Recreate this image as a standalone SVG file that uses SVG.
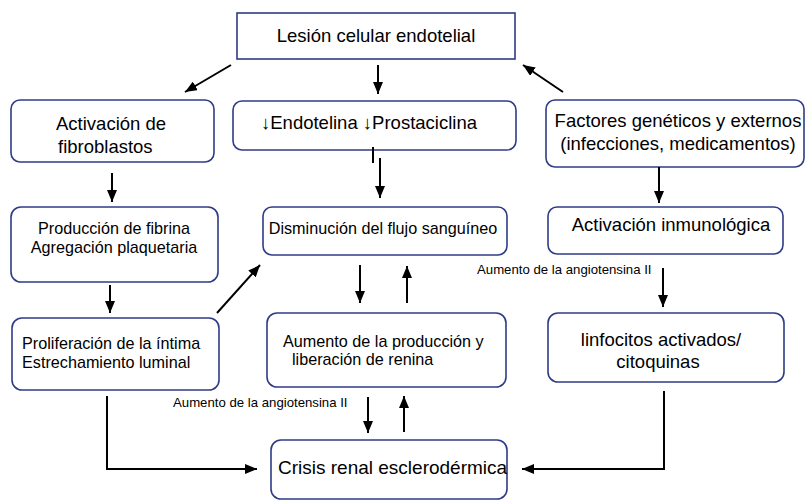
<svg xmlns="http://www.w3.org/2000/svg" width="805" height="501" viewBox="0 0 805 501">
<defs>
<marker id="ah" markerUnits="userSpaceOnUse" markerWidth="12" markerHeight="10" refX="12" refY="5" orient="auto">
<path d="M0,0 L12,5 L0,10 z" fill="#000"/>
</marker>
<style>
.box{fill:#fff;stroke:#2f3b86;stroke-width:1.6}
.t{font-family:"Liberation Sans",Arial,sans-serif;fill:#000}
.l{font-size:18.5px}
.m{font-size:16.2px}
.s{font-size:13.2px}
.c{text-anchor:middle}
.ln{stroke:#000;stroke-width:2;fill:none}
.a{marker-end:url(#ah)}
</style>
</defs>
<rect width="805" height="501" fill="#fff"/>

<g id="lesion">
<rect class="box" x="237" y="13" width="278" height="46"/>
<text class="t l c" x="376" y="42">Lesión celular endotelial</text>
</g>
<g id="fibroblastos">
<rect class="box" x="11" y="100" width="203" height="62" rx="9"/>
<text class="t l" x="56" y="130">Activación de</text>
<text class="t l" x="58" y="153">fibroblastos</text>
</g>
<g id="endotelina">
<rect class="box" x="233" y="101" width="283" height="49" rx="9"/>
<text class="t l c" x="369" y="129">↓Endotelina ↓Prostaciclina</text>
</g>
<g id="factores">
<rect class="box" x="546" y="100" width="258" height="67" rx="9"/>
<text class="t l c" x="678" y="127">Factores genéticos y externos</text>
<text class="t l c" x="678" y="150">(infecciones, medicamentos)</text>
</g>
<g id="fibrina">
<rect class="box" x="11" y="207" width="207" height="75" rx="10"/>
<text class="t m c" x="114" y="234">Producción de fibrina</text>
<text class="t m c" x="114" y="253">Agregación plaquetaria</text>
</g>
<g id="flujo">
<rect class="box" x="263" y="207" width="244" height="48" rx="9"/>
<text class="t m c" x="383" y="234">Disminución del flujo sanguíneo</text>
</g>
<g id="inmunologica">
<rect class="box" x="548" y="207" width="235" height="47" rx="9"/>
<text class="t l c" x="671" y="231">Activación inmunológica</text>
</g>
<g id="proliferacion">
<rect class="box" x="12" y="318" width="207" height="72" rx="10"/>
<text class="t m" x="22" y="349">Proliferación de la íntima</text>
<text class="t m" x="22" y="368">Estrechamiento luminal</text>
</g>
<g id="renina">
<rect class="box" x="267" y="313" width="239" height="74" rx="10"/>
<text class="t m" x="283" y="347">Aumento de la producción y</text>
<text class="t m" x="292" y="365">liberación de renina</text>
</g>
<g id="linfocitos">
<rect class="box" x="548" y="313" width="236" height="69" rx="10"/>
<text class="t l c" x="661" y="346">linfocitos activados/</text>
<text class="t l c" x="658" y="368">citoquinas</text>
</g>
<g id="crisis">
<rect class="box" x="271" y="440" width="236" height="59" rx="10"/>
<text class="t" x="278" y="474" style="font-size:19px">Crisis renal esclerodérmica</text>
</g>

<g id="labels">
<text class="t s" x="477" y="274">Aumento de la angiotensina II</text>
<text class="t s" x="173" y="407">Aumento de la angiotensina II</text>
</g>

<g id="connectors">
<line class="ln a" x1="231" y1="65" x2="185" y2="92"/>
<line class="ln a" x1="378" y1="65" x2="378" y2="94"/>
<line class="ln a" x1="563" y1="92" x2="523" y2="65"/>
<line class="ln a" x1="112" y1="173" x2="112" y2="202"/>
<line class="ln" x1="373" y1="147" x2="373" y2="163" stroke-width="1.2"/>
<line class="ln a" x1="380" y1="158" x2="380" y2="198"/>
<line class="ln a" x1="659" y1="167" x2="659" y2="203"/>
<line class="ln a" x1="110" y1="285" x2="110" y2="313"/>
<line class="ln a" x1="217" y1="313" x2="260" y2="265"/>
<line class="ln a" x1="663" y1="268" x2="663" y2="307"/>
<line class="ln a" x1="360" y1="265" x2="360" y2="303"/>
<line class="ln a" x1="407" y1="303" x2="407" y2="266"/>
<line class="ln a" x1="368" y1="397" x2="368" y2="433"/>
<line class="ln a" x1="404" y1="432" x2="404" y2="396"/>
<polyline class="ln a" points="107,396 107,469 257,469"/>
<polyline class="ln a" points="664,391 664,469 522,469"/>
</g>
</svg>
